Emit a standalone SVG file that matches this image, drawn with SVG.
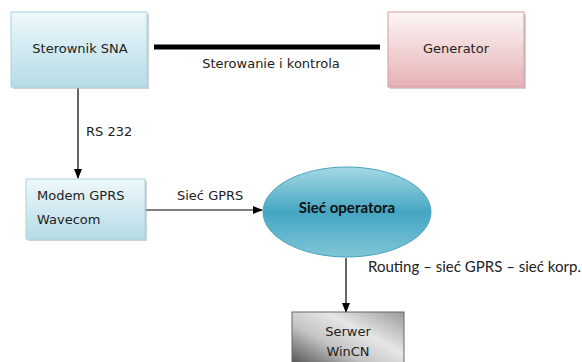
<svg xmlns="http://www.w3.org/2000/svg" width="582" height="362" viewBox="0 0 582 362">
<defs>
<linearGradient id="gBlue" x1="0" y1="0" x2="0" y2="1"><stop offset="0" stop-color="#eef8fb"/><stop offset="1" stop-color="#b5dce7"/></linearGradient>
<linearGradient id="gPink" x1="0" y1="0" x2="0" y2="1"><stop offset="0" stop-color="#fdf7f7"/><stop offset="1" stop-color="#e6b1b4"/></linearGradient>
<linearGradient id="gEll" x1="0" y1="0" x2="0" y2="1"><stop offset="0" stop-color="#a6d8e4"/><stop offset="0.5" stop-color="#45a6c2"/><stop offset="1" stop-color="#7ec6d8"/></linearGradient>
<linearGradient id="gGray" x1="1" y1="0" x2="0" y2="1"><stop offset="0" stop-color="#9a9a9a"/><stop offset="0.35" stop-color="#e6e6e6"/><stop offset="0.6" stop-color="#c4c4c4"/><stop offset="1" stop-color="#3c3c3c"/></linearGradient>
<marker id="arr" markerWidth="10" markerHeight="8" refX="9" refY="4" orient="auto" markerUnits="userSpaceOnUse"><path d="M0,0 L10,4 L0,8 Z" fill="#000"/></marker>
</defs>
<style>
.sh{fill:#b0b0b0;opacity:0.6}
.t{font-family:"DejaVu Sans",Verdana,sans-serif;font-size:13px;fill:#222}
.c{font-family:Lato,"Open Sans",sans-serif;font-size:15px;fill:#222}
.ln{stroke:#000;stroke-width:1.2;fill:none}
</style>
<g id="connectors">
<line x1="154" y1="47" x2="380" y2="47" stroke="#000" stroke-width="5"/>
<text class="t" x="271" y="68" text-anchor="middle" font-size="13.5">Sterowanie i kontrola</text>
<line class="ln" x1="78" y1="88" x2="78" y2="178" marker-end="url(#arr)"/>
<text class="t" x="86" y="136">RS 232</text>
<line class="ln" x1="145" y1="210" x2="262" y2="210" marker-end="url(#arr)"/>
<text class="t" x="177" y="200">Sieć GPRS</text>
<line class="ln" x1="346" y1="258" x2="346" y2="312" marker-end="url(#arr)"/>
<text class="c" x="368" y="272" textLength="213">Routing – sieć GPRS – sieć korp.</text>
</g>
<g id="sterownik">
<rect class="sh" x="13" y="14" width="136" height="75"/>
<rect x="11" y="12" width="136" height="75" fill="url(#gBlue)" stroke="#a9d3de" stroke-width="1"/>
<text class="t" x="80" y="53" text-anchor="middle">Sterownik SNA</text>
</g>
<g id="generator">
<rect class="sh" x="390" y="14" width="136" height="75"/>
<rect x="388" y="12" width="136" height="75" fill="url(#gPink)" stroke="#d9999d" stroke-width="1"/>
<text class="t" x="456" y="53" text-anchor="middle">Generator</text>
</g>
<g id="modem">
<rect class="sh" x="28" y="181" width="119" height="60"/>
<rect x="26" y="179" width="119" height="60" fill="url(#gBlue)" stroke="#a9d3de" stroke-width="1"/>
<text class="t" x="37" y="200">Modem GPRS</text>
<text class="t" x="37" y="224">Wavecom</text>
</g>
<g id="siec">
<ellipse cx="347" cy="212" rx="84" ry="45" fill="url(#gEll)" stroke="#4aa3bd" stroke-width="1"/>
<text x="347" y="213" text-anchor="middle" font-family="Lato,'Open Sans',sans-serif" font-weight="bold" font-size="15" fill="#111">Sieć operatora</text>
</g>
<g id="serwer">
<rect x="292" y="312" width="112" height="60" fill="url(#gGray)" stroke="#666" stroke-width="1"/>
<text class="t" x="348" y="336" text-anchor="middle" font-size="14">Serwer</text>
<text class="t" x="348" y="356" text-anchor="middle" font-size="14">WinCN</text>
</g>
</svg>
